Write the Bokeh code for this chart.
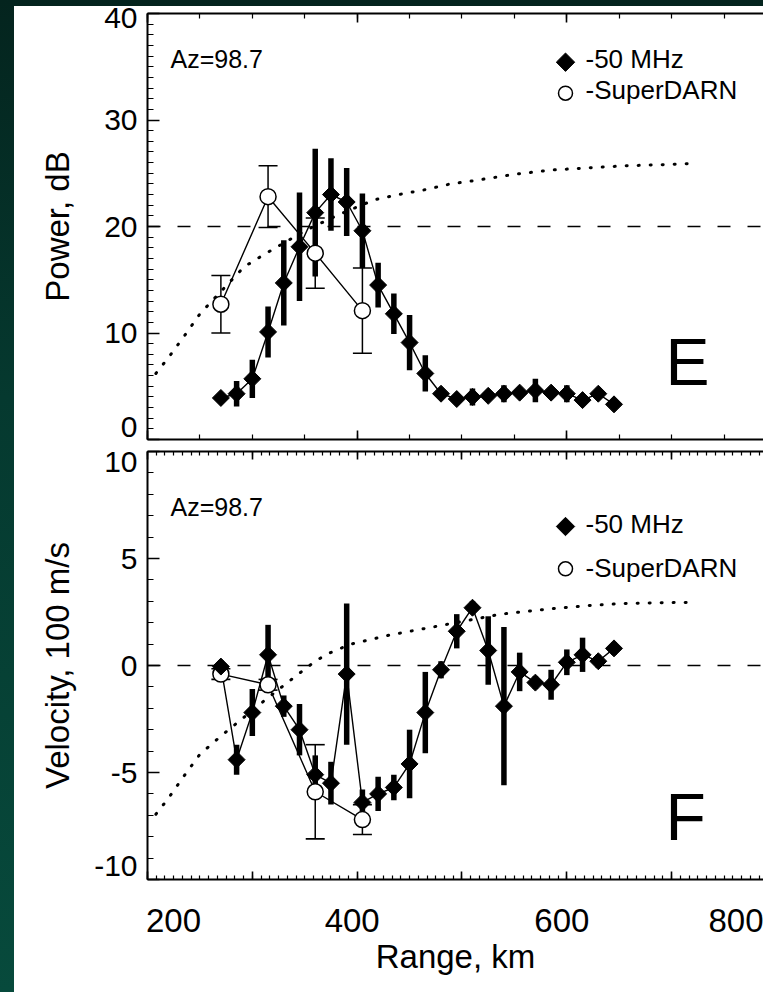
import math

from bokeh.embed import file_html
from bokeh.layouts import column
from bokeh.models import AllLabels, ColumnDataSource, FixedTicker, Label, LinearAxis, Range1d, Span
from bokeh.plotting import figure
from bokeh.resources import INLINE

FONT = "Liberation Sans"

# ---------------- data ----------------
# 50 MHz radar range gates (km)
RANGE_50MHZ = [270, 285, 300, 315, 330, 345, 360, 375, 390, 405, 420, 435, 450,
               465, 480, 495, 510, 525, 540, 555, 570, 585, 600, 615, 630, 645]
POWER_50MHZ = [3.9, 4.3, 5.7, 10.1, 14.7, 18.1, 21.3, 23.0, 22.3, 19.6, 14.5, 11.8, 9.1,
               6.2, 4.3, 3.8, 4.0, 4.1, 4.3, 4.4, 4.6, 4.4, 4.3, 3.7, 4.3, 3.3]
POWER_50MHZ_ERR = [0.4, 1.2, 1.8, 2.4, 4.0, 5.1, 6.0, 3.4, 3.2, 3.5, 2.1, 1.9, 2.6,
                   1.7, 0.5, 0.5, 0.8, 0.5, 0.8, 0.5, 1.1, 0.5, 0.8, 0.5, 0.5, 0.3]
VEL_50MHZ = [-0.05, -4.4, -2.2, 0.5, -1.9, -3.0, -5.1, -5.5, -0.4, -6.4, -6.0, -5.7, -4.6,
             -2.2, -0.2, 1.6, 2.7, 0.7, -1.9, -0.3, -0.8, -0.9, 0.15, 0.5, 0.2, 0.8]
VEL_50MHZ_ERR = [0.3, 0.7, 1.1, 1.4, 0.5, 1.2, 0.9, 1.0, 3.3, 0.6, 0.8, 0.6, 1.6,
                 1.9, 0.4, 0.8, 0.3, 1.6, 3.7, 0.9, 0.3, 0.7, 0.6, 0.8, 0.3, 0.3]

# SuperDARN range gates (km)
RANGE_SD = [270, 315, 360, 405]
POWER_SD = [12.7, 22.8, 17.5, 12.1]
POWER_SD_ERR = [2.7, 2.9, 3.3, 4.0]
VEL_SD = [-0.4, -0.9, -5.9, -7.2]
VEL_SD_ERR = [0.25, 0.25, 2.2, 0.7]

# model curves (dotted)
MODEL_RANGE_P = [208, 220, 235, 250, 270, 292, 310, 324, 350, 380, 416, 440, 467,
                 489, 511, 550, 585, 620, 655, 690, 716]
MODEL_POWER = [6.2, 7.7, 9.7, 11.8, 13.9, 16.2, 17.3, 18.1, 19.6, 21.0, 22.5, 23.0, 23.5,
               24.0, 24.3, 24.9, 25.3, 25.5, 25.7, 25.8, 25.9]
MODEL_RANGE_V = [208, 220, 235, 250, 270, 290, 310, 336, 360, 372, 394, 429, 483,
                 537, 585, 620, 655, 690, 716]
MODEL_VEL = [-6.95, -6.2, -5.15, -4.15, -3.3, -2.5, -1.7, -0.7, 0.2, 0.55, 1.0, 1.4, 1.9,
             2.4, 2.65, 2.8, 2.9, 2.93, 2.95]

POWER_REF = 20
VEL_REF = 0

POWER_TICKS = [0, 10, 20, 30, 40]
VEL_TICKS = [-10, -5, 0, 5, 10]
RANGE_TICK_LABELS = [200, 400, 600, 800]
AZIMUTH = "Az=98.7"

# ---------------- geometry ----------------
X_START, X_END = 200, 787.6
FRAME_LEFT_PX = 147      # page x of the frame's left edge
FRAME_W = 616
KM_PER_PX = (X_END - X_START) / FRAME_W
P1_FRAME_TOP, P1_FRAME_H = 13, 426
P2_FRAME_TOP, P2_FRAME_H = 451, 428
P1_CANVAS_H = 444                         # power panel canvas: page y 0..444
P2_CANVAS_H = 992 - P1_CANVAS_H           # velocity panel canvas: page y 444..992


def data_x(sx):
    return X_START + (sx - FRAME_LEFT_PX) * KM_PER_PX


def data_y(sy, top, fh, lo, hi):
    return hi - (sy - top) * (hi - lo) / fh


def tick_axis(ticks, minor, major_in, minor_in):
    """Axis that only draws the line and inward ticks (no labels, no extent)."""
    ax = LinearAxis(ticker=FixedTicker(ticks=ticks, minor_ticks=minor))
    ax.major_tick_in = major_in
    ax.major_tick_out = 0
    ax.minor_tick_in = minor_in
    ax.minor_tick_out = 0
    ax.axis_line_width = 2
    ax.axis_line_color = "black"
    ax.major_tick_line_width = 1.6
    ax.minor_tick_line_width = 1.2
    ax.major_tick_line_color = "black"
    ax.minor_tick_line_color = "black"
    ax.major_label_overrides = {t: "" for t in ticks}
    ax.major_label_text_font_size = "0px"
    ax.major_label_standoff = 0
    return ax


def label_axis(positions, texts, size, standoff, title, title_standoff):
    """Axis that only draws tick labels (placed at the given positions) and a title."""
    ax = LinearAxis(ticker=FixedTicker(ticks=positions, minor_ticks=[]))
    ax.major_label_overrides = {p: t for p, t in zip(positions, texts)}
    ax.major_label_policy = AllLabels()
    ax.axis_line_color = None
    ax.major_tick_line_color = None
    ax.minor_tick_line_color = None
    ax.major_tick_in = 0
    ax.major_tick_out = 0
    ax.minor_tick_in = 0
    ax.minor_tick_out = 0
    ax.major_label_text_font = FONT
    ax.major_label_text_font_size = size
    ax.major_label_text_color = "black"
    ax.major_label_standoff = standoff
    if title:
        ax.axis_label = title
        ax.axis_label_text_font = FONT
        ax.axis_label_text_font_size = "33px"
        ax.axis_label_text_font_style = "normal"
        ax.axis_label_text_color = "black"
        ax.axis_label_standoff = title_standoff
    return ax


def make_panel(height, b_top, b_bottom, y_lo, y_hi):
    p = figure(width=749, height=height,
               x_range=Range1d(X_START, X_END), y_range=Range1d(y_lo, y_hi),
               output_backend="svg", toolbar_location=None,
               x_axis_location=None, y_axis_location=None,
               min_border_left=133, min_border_right=0,
               min_border_top=b_top, min_border_bottom=b_bottom,
               background_fill_color="white", border_fill_color=None,
               outline_line_color=None)
    p.xgrid.visible = False
    p.ygrid.visible = False
    return p


def add_text(p, x, y, text, size, align="left"):
    p.add_layout(Label(x=x, y=y, text=text, text_font=FONT, text_font_size=size,
                       text_align=align, text_baseline="middle", text_color="black"))


def draw_series(p, y50, e50, ysd, esd, model_x, model_y, ref):
    p.add_layout(Span(location=ref, dimension="width", line_color="black",
                      line_width=1.4, line_dash="13 17"))
    p.line(model_x, model_y, line_color="black", line_width=3, line_dash="1 11",
           line_cap="round")
    p.line(RANGE_SD, ysd, line_color="black", line_width=1.4)
    p.line(RANGE_50MHZ, y50, line_color="black", line_width=1.4)

    sd = ColumnDataSource(dict(x=RANGE_SD, y=ysd,
                               lo=[v - e for v, e in zip(ysd, esd)],
                               hi=[v + e for v, e in zip(ysd, esd)]))
    p.segment(x0="x", y0="lo", x1="x", y1="hi", source=sd, line_color="black", line_width=1.5)
    p.scatter(x="x", y="lo", source=sd, marker="dash", size=19, line_color="black", line_width=1.6)
    p.scatter(x="x", y="hi", source=sd, marker="dash", size=19, line_color="black", line_width=1.6)

    mhz = ColumnDataSource(dict(x=RANGE_50MHZ, y=y50,
                                lo=[v - e for v, e in zip(y50, e50)],
                                hi=[v + e for v, e in zip(y50, e50)]))
    p.segment(x0="x", y0="lo", x1="x", y1="hi", source=mhz, line_color="black", line_width=5.5)
    p.scatter(x="x", y="y", source=sd, marker="circle", size=16, fill_color="white",
              line_color="black", line_width=1.5)
    p.scatter(x="x", y="y", source=mhz, marker="square", angle=math.pi / 4, size=12,
              fill_color="black", line_color="black", line_width=1)


def add_legend(p, top, fh, lo, hi, y_diamond, y_text1, y_circle, y_text2):
    kx = data_x(565)
    p.scatter(x=[kx], y=[data_y(y_diamond, top, fh, lo, hi)], marker="square",
              angle=math.pi / 4, size=13, fill_color="black", line_color="black")
    p.scatter(x=[kx], y=[data_y(y_circle, top, fh, lo, hi)], marker="circle", size=14,
              fill_color="white", line_color="black", line_width=1.5)
    add_text(p, data_x(585), data_y(y_text1, top, fh, lo, hi), "-50 MHz", "26px")
    add_text(p, data_x(585), data_y(y_text2, top, fh, lo, hi), "-SuperDARN", "26px")


def y_label_positions(ticks, px_per_unit, shift_top, shift_bottom):
    # end labels are pulled inward so they stay clear of the frame corners
    out = []
    for t in ticks:
        if t == max(ticks):
            out.append(round(t - shift_top / px_per_unit, 3))
        elif t == min(ticks):
            out.append(round(t + shift_bottom / px_per_unit, 3))
        else:
            out.append(t)
    return out


# ---------------- power panel ----------------
p1 = make_panel(P1_CANVAS_H, P1_FRAME_TOP, P1_CANVAS_H - P1_FRAME_TOP - P1_FRAME_H, 0, 40)
p1.add_layout(tick_axis(POWER_TICKS, list(range(0, 41)), 12, 6), "left")
p1_px = P1_FRAME_H / 40
p1.add_layout(label_axis(y_label_positions(POWER_TICKS, p1_px, 5, 12),
                         [str(t) for t in POWER_TICKS], "30px", 10, "Power, dB", 25), "left")
range_major_p1 = [200, 400, 600, 800]
range_minor_p1 = list(range(200, 801, 50))
p1.add_layout(tick_axis(range_major_p1, range_minor_p1, 9, 5), "above")
p1.add_layout(tick_axis(range_major_p1, range_minor_p1, 9, 5), "below")

draw_series(p1, POWER_50MHZ, POWER_50MHZ_ERR, POWER_SD, POWER_SD_ERR,
            MODEL_RANGE_P, MODEL_POWER, POWER_REF)
add_legend(p1, P1_FRAME_TOP, P1_FRAME_H, 0, 40, 61.7, 58.3, 92.7, 89.7)
add_text(p1, data_x(170), data_y(58.5, P1_FRAME_TOP, P1_FRAME_H, 0, 40), AZIMUTH, "25px")
add_text(p1, data_x(665), data_y(361, P1_FRAME_TOP, P1_FRAME_H, 0, 40), "E", "66px")

# ---------------- velocity panel ----------------
p2_top_border = P2_FRAME_TOP - P1_CANVAS_H
p2 = make_panel(P2_CANVAS_H, p2_top_border, P2_CANVAS_H - p2_top_border - P2_FRAME_H, -10, 10)
p2.add_layout(tick_axis(VEL_TICKS, list(range(-10, 11)), 12, 6), "left")
p2_px = P2_FRAME_H / 20
p2.add_layout(label_axis(y_label_positions(VEL_TICKS, p2_px, 11, 14),
                         [str(t) for t in VEL_TICKS], "30px", 10, "Velocity, 100 m/s", 15), "left")
range_major_p2 = list(range(200, 801, 100))
range_minor_p2 = [200 + i * 100 / 12 for i in range(0, 73)]
p2.add_layout(tick_axis(range_major_p2, range_minor_p2, 8, 4), "above")
p2.add_layout(tick_axis(range_major_p2, range_minor_p2, 8, 4), "below")

# range labels: the two end labels are pulled inward
x_label_pos = []
for i, v in enumerate(RANGE_TICK_LABELS):
    shift = 26 if i == 0 else (-40 if i == len(RANGE_TICK_LABELS) - 1 else -5)
    x_label_pos.append(round(v + shift * KM_PER_PX, 3))
p2.add_layout(label_axis(x_label_pos, [str(v) for v in RANGE_TICK_LABELS], "33px", 29,
                         "Range, km", 3), "below")

draw_series(p2, VEL_50MHZ, VEL_50MHZ_ERR, VEL_SD, VEL_SD_ERR,
            MODEL_RANGE_V, MODEL_VEL, VEL_REF)
add_legend(p2, P2_FRAME_TOP, P2_FRAME_H, -10, 10, 526, 523, 568.3, 567.5)
add_text(p2, data_x(170), data_y(506.5, P2_FRAME_TOP, P2_FRAME_H, -10, 10), AZIMUTH, "25px")
add_text(p2, data_x(665), data_y(816, P2_FRAME_TOP, P2_FRAME_H, -10, 10), "F", "66px")

p1.margin = (0, 0, 0, 14)
p2.margin = (0, 0, 0, 14)

page = column(p1, p2, width=763, height=992, spacing=0,
              styles={"background": "linear-gradient(#ffffff, #ffffff) 14px 6px / 749px 986px no-repeat, "
                                    "linear-gradient(to bottom, #04241e 0%, #05392f 40%, #074a3c 100%)"})

open("out.html", "w").write(file_html(page, INLINE))
